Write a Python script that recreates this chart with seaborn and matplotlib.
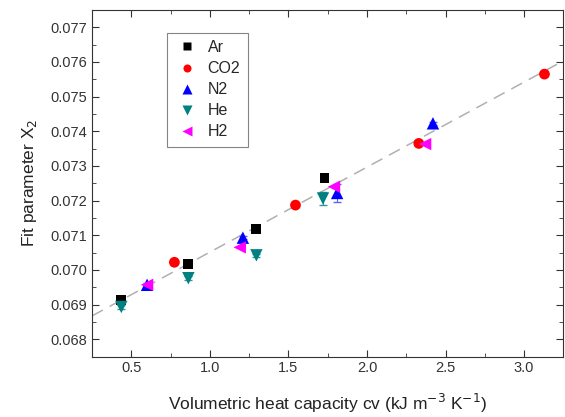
import pandas as pd
import numpy as np
import matplotlib.pyplot as plt
import seaborn as sns
from matplotlib.ticker import MultipleLocator

# Data
ar_cv = [0.436, 0.863, 1.296, 1.73]
ar_x2 = [0.06913, 0.07017, 0.07118, 0.07265]
co2_cv = [0.774, 1.545, 2.33, 3.13]
co2_x2 = [0.07022, 0.07187, 0.07365, 0.07565]
n2_cv = [0.60, 1.21, 1.81, 2.42]
n2_x2 = [0.06957, 0.07093, 0.07222, 0.07423]
n2_err = [0.00005, 0.00005, 0.00025, 0.00005]
he_cv = [0.436, 0.863, 1.296, 1.72]
he_x2 = [0.06893, 0.06976, 0.07042, 0.07206]
he_err = [0.00005, 0.00005, 0.00005, 0.00018]
h2_cv = [0.60, 1.19, 1.79, 2.37]
h2_x2 = [0.06957, 0.07065, 0.07240, 0.07363]

# linear fit shown as the grey dashed line
fit_slope = 0.002453
fit_intercept = 0.06806

gases = ['Ar', 'CO2', 'N2', 'He', 'H2']
colors = {'Ar': 'black', 'CO2': 'red', 'N2': 'blue', 'He': '#008080', 'H2': 'magenta'}
markers = {'Ar': 's', 'CO2': 'o', 'N2': '^', 'He': 'v', 'H2': '<'}
sizes = {'Ar': 50, 'CO2': 60, 'N2': 80, 'He': 80, 'H2': 80}

df = pd.DataFrame({
    'gas': ['Ar'] * 4 + ['CO2'] * 4 + ['N2'] * 4 + ['He'] * 4 + ['H2'] * 4,
    'cv': ar_cv + co2_cv + n2_cv + he_cv + h2_cv,
    'x2': ar_x2 + co2_x2 + n2_x2 + he_x2 + h2_x2,
})

sns.set_style("ticks")
plt.rcParams['font.family'] = ['Liberation Sans', 'DejaVu Sans']

fig, ax = plt.subplots(figsize=(5.65, 4.17), dpi=100)

# fit line
xs = np.array([0.25, 3.25])
ax.plot(xs, fit_intercept + fit_slope * xs, color='#b0b0b0', ls=(0, (8, 5)), lw=1.1, zorder=1)

# error bars
ax.errorbar(n2_cv, n2_x2, yerr=n2_err, fmt='none', ecolor='#6060ff', capsize=3, lw=0.8, zorder=2)
ax.errorbar(he_cv, he_x2, yerr=he_err, fmt='none', ecolor='#2a9a9a', capsize=3, lw=0.8, zorder=2)

sns.scatterplot(data=df, x='cv', y='x2', hue='gas', style='gas', size='gas',
                hue_order=gases, style_order=gases, size_order=gases,
                palette=colors, markers=markers, sizes=sizes,
                edgecolor='none', ax=ax, zorder=3)

ax.set_xlim(0.25, 3.25)
ax.set_ylim(0.0675, 0.0775)
ax.xaxis.set_major_locator(MultipleLocator(0.5))
ax.xaxis.set_minor_locator(MultipleLocator(0.25))
ax.yaxis.set_major_locator(MultipleLocator(0.001))
ax.yaxis.set_minor_locator(MultipleLocator(0.0005))
ax.yaxis.set_major_formatter(plt.FormatStrFormatter('%.3f'))
ax.tick_params(which='both', direction='in', top=True, right=True, labelsize=10.5, colors='#333333')
ax.tick_params(which='major', length=5)
ax.tick_params(which='minor', length=3)
for sp in ax.spines.values():
    sp.set_color('#333333')

ax.set_xlabel('Volumetric heat capacity cv (kJ m$^{-3}$ K$^{-1}$)', fontsize=12.5, labelpad=12, color='#222222')
ax.set_ylabel('Fit parameter X$_2$', fontsize=12.5, labelpad=8, color='#222222')

leg = ax.legend(loc='upper left', bbox_to_anchor=(0.159, 0.934), borderaxespad=0,
                fancybox=False, edgecolor='#666666', fontsize=11.5, handletextpad=0.5,
                handlelength=1.6, borderpad=0.45, labelspacing=0.38, markerscale=0.75)
leg.get_frame().set_linewidth(0.8)

fig.subplots_adjust(left=0.163, right=0.997, top=0.976, bottom=0.145)
fig.savefig('out.png', dpi=100)
